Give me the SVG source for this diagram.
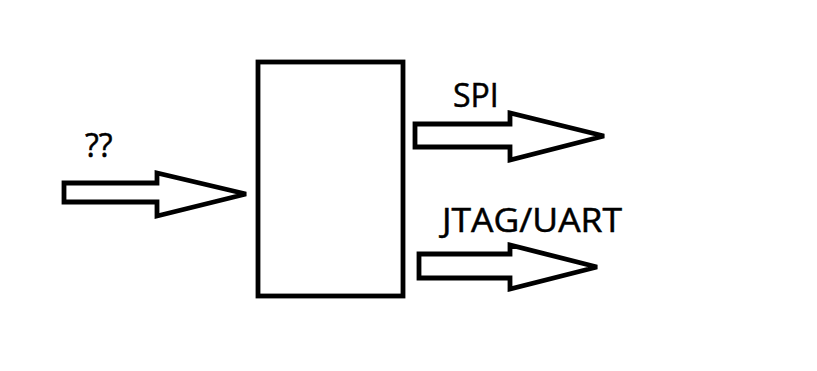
<svg xmlns="http://www.w3.org/2000/svg" width="817" height="371" viewBox="0 0 817 371">
<style>
.shape{fill:#fff;stroke:#000;stroke-width:4.8;stroke-linejoin:miter}
.lbl{font-family:"Open Sans","Noto Sans",sans-serif;font-size:32px;fill:#000;stroke:#000;stroke-width:0.5}
</style>
<rect width="817" height="371" fill="#fff"/>
<g id="block"><rect class="shape" x="258" y="62" width="145" height="234"/></g>
<g id="connectors">
<g id="in-arrow"><polygon class="shape" points="64,183 157,183 157,173 246,194 157,216 157,202 64,202"/></g>
<g id="spi-arrow"><polygon class="shape" points="415,124 510,124 510,113 604,136 510,160 510,147 415,147"/></g>
<g id="jtag-arrow"><polygon class="shape" points="419,254 510,254 510,245 597,267 510,289 510,278 419,278"/></g>
</g>
<g id="labels">
<text class="lbl" x="85" y="157">??</text>
<text class="lbl" x="453" y="107">SPI</text>
<text class="lbl" x="442" y="232" textLength="180" lengthAdjust="spacingAndGlyphs">JTAG/UART</text>
</g>
</svg>
